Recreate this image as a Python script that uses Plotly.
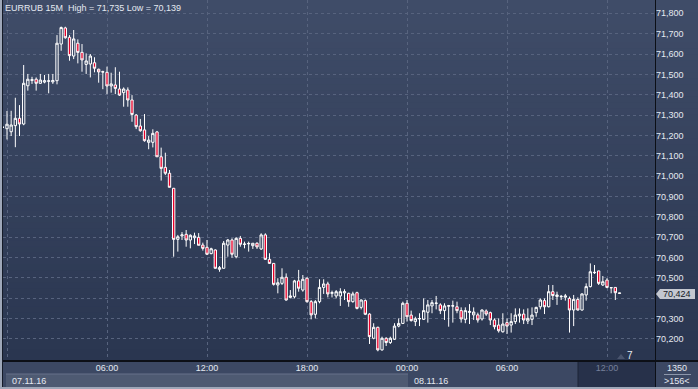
import plotly.graph_objects as go

# ---------------- data (EURRUB, 15-minute bars, 07.11.16 00:00 = bar 0) ----------------
opens = [71240, 71233, 71218, 71248, 71284, 71256, 71444, 71470, 71476, 71456, 71462, 71466, 71463, 71469, 71649, 71728,
         71682, 71590, 71653, 71608, 71549, 71551, 71557, 71525, 71511, 71510, 71443, 71448, 71428, 71410, 71423, 71374,
         71300, 71246, 71227, 71166, 71166, 71217, 71095, 71043, 71014, 70940, 70689, 70706, 70714, 70686, 70697, 70699,
         70661, 70650, 70619, 70637, 70542, 70547, 70661, 70686, 70604, 70694, 70664, 70667, 70658, 70670, 70642, 70711,
         70591, 70571, 70465, 70473, 70503, 70404, 70407, 70485, 70440, 70498, 70383, 70321, 70383, 70453, 70470, 70424,
         70411, 70411, 70426, 70424, 70383, 70427, 70355, 70388, 70322, 70203, 70257, 70146, 70203, 70182, 70198, 70263,
         70276, 70375, 70317, 70285, 70298, 70296, 70331, 70362, 70374, 70367, 70339, 70361, 70361, 70358, 70339, 70296,
         70330, 70318, 70318, 70298, 70337, 70329, 70293, 70268, 70235, 70280, 70268, 70285, 70313, 70322, 70288, 70296,
         70329, 70358, 70388, 70358, 70432, 70408, 70407, 70405, 70399, 70342, 70394, 70342, 70416, 70457, 70525, 70534,
         70465, 70489, 70451, 70453, 70426]
highs = [71242, 71320, 71321, 71385, 71349, 71546, 71502, 71488, 71485, 71502, 71497, 71502, 71502, 71693, 71735, 71734,
         71693, 71718, 71672, 71649, 71603, 71600, 71584, 71528, 71518, 71538, 71508, 71535, 71513, 71436, 71436, 71398,
         71305, 71281, 71305, 71197, 71230, 71222, 71140, 71115, 71030, 70942, 70711, 70725, 70735, 70714, 70722, 70720,
         70673, 70686, 70648, 70640, 70558, 70681, 70691, 70694, 70700, 70706, 70678, 70678, 70670, 70675, 70719, 70719,
         70621, 70572, 70498, 70547, 70522, 70440, 70490, 70539, 70514, 70503, 70391, 70391, 70493, 70493, 70481, 70437,
         70440, 70449, 70444, 70427, 70432, 70432, 70394, 70394, 70326, 70277, 70260, 70211, 70208, 70211, 70277, 70301,
         70383, 70391, 70339, 70309, 70326, 70399, 70391, 70391, 70411, 70375, 70375, 70367, 70388, 70383, 70355, 70355,
         70371, 70355, 70329, 70345, 70345, 70334, 70301, 70301, 70326, 70301, 70326, 70350, 70350, 70345, 70350, 70355,
         70358, 70399, 70399, 70465, 70465, 70432, 70416, 70421, 70408, 70416, 70404, 70424, 70473, 70571, 70563, 70535,
         70509, 70498, 70454, 70455, 70427]
lows = [71238, 71180, 71197, 71142, 71197, 71250, 71420, 71453, 71420, 71453, 71456, 71407, 71453, 71451, 71616, 71675,
        71567, 71575, 71554, 71513, 71502, 71485, 71510, 71459, 71427, 71403, 71410, 71403, 71394, 71341, 71341, 71267,
        71231, 71218, 71169, 71132, 71141, 71095, 70978, 71005, 70945, 70604, 70629, 70686, 70653, 70645, 70666, 70660,
        70634, 70612, 70616, 70545, 70530, 70547, 70604, 70599, 70596, 70653, 70645, 70629, 70642, 70642, 70637, 70588,
        70568, 70462, 70424, 70465, 70388, 70399, 70399, 70432, 70432, 70378, 70296, 70301, 70375, 70421, 70404, 70404,
        70399, 70362, 70391, 70358, 70378, 70345, 70345, 70317, 70175, 70198, 70139, 70142, 70165, 70175, 70195, 70257,
        70273, 70285, 70285, 70263, 70263, 70293, 70280, 70326, 70345, 70322, 70293, 70260, 70280, 70326, 70280, 70277,
        70273, 70293, 70280, 70290, 70313, 70268, 70247, 70231, 70231, 70224, 70231, 70273, 70280, 70273, 70273, 70268,
        70309, 70345, 70322, 70355, 70391, 70367, 70391, 70388, 70231, 70263, 70339, 70339, 70388, 70453, 70519, 70465,
        70460, 70449, 70424, 70391, 70422]
closes = [71240, 71255, 71251, 71284, 71256, 71456, 71476, 71474, 71456, 71472, 71469, 71468, 71470, 71653, 71730, 71680,
          71592, 71674, 71608, 71571, 71566, 71590, 71530, 71512, 71513, 71443, 71453, 71431, 71398, 71428, 71374, 71303,
          71243, 71223, 71174, 71177, 71210, 71095, 71038, 71014, 70945, 70689, 70702, 70711, 70686, 70709, 70706, 70660,
          70645, 70616, 70643, 70547, 70550, 70670, 70686, 70616, 70694, 70665, 70666, 70669, 70670, 70652, 70711, 70591,
          70571, 70468, 70476, 70503, 70391, 70411, 70485, 70449, 70493, 70383, 70318, 70383, 70453, 70470, 70421, 70427,
          70432, 70432, 70432, 70383, 70421, 70350, 70391, 70321, 70211, 70257, 70146, 70203, 70182, 70203, 70263, 70276,
          70375, 70309, 70290, 70299, 70300, 70339, 70367, 70378, 70376, 70339, 70362, 70363, 70363, 70339, 70298, 70339,
          70335, 70332, 70293, 70342, 70322, 70293, 70260, 70240, 70273, 70263, 70285, 70317, 70322, 70293, 70301, 70317,
          70355, 70391, 70358, 70432, 70413, 70416, 70409, 70411, 70342, 70394, 70342, 70421, 70457, 70530, 70527, 70473,
          70481, 70453, 70452, 70427, 70424]
first_bar = -1                      # first bar is 06.11.16 23:45
bars = list(range(first_bar, first_bar + len(opens)))

time_ticks = [0, 24, 48, 72, 96, 120, 144]
time_labels = ["00:00", "06:00", "12:00", "18:00", "00:00", "06:00",
               "<span style='color:#76809a'>12:00</span>"]
price_ticks = list(range(70200, 71801, 100))
# the 70,400 label sits under the last-price marker
price_labels = ["" if v == 70400 else f"{v:,}" for v in price_ticks]
date_labels = ["07.11.16", "08.11.16"]
title_text = "EURRUB 15M  High = 71,735 Low = 70,139"
last_price = "70,424"

# ---------------- layout geometry (pixels) ----------------
W, H = 698, 389
ML, MR, MT, MB = 3, 43, 0, 28
PW, PH = W - ML - MR, H - MT - MB


def px(x):
    return (x - ML) / PW


def py(y):
    return (MT + PH - y) / PH


fig = go.Figure()
fig.add_trace(go.Candlestick(
    x=bars, open=opens, high=highs, low=lows, close=closes,
    increasing=dict(line=dict(color="#ffffff", width=1), fillcolor="rgba(0,0,0,0)"),
    decreasing=dict(line=dict(color="#ffffff", width=1), fillcolor="#e8002a"),
    whiskerwidth=0, showlegend=False, hoverinfo="skip"))

shapes = []
# vertical gradient background
top, bot = (63, 76, 104), (42, 54, 80)
n = 60
for k in range(n):
    t = k / (n - 1)
    c = tuple(round(top[j] + (bot[j] - top[j]) * t) for j in range(3))
    y0 = PH * k / n
    y1 = PH * (k + 1) / n + 0.5
    shapes.append(dict(type="rect", xref="paper", yref="paper", layer="below",
                       x0=px(0), x1=px(W), y0=py(y1), y1=py(y0),
                       fillcolor="rgb(%d,%d,%d)" % c, line=dict(width=0)))
# bottom time axis strip
shapes.append(dict(type="rect", xref="paper", yref="paper", layer="below",
                   x0=px(0), x1=px(W), y0=py(H), y1=py(361),
                   fillcolor="#3c4863", line=dict(width=0)))
# date strip (first day)
shapes.append(dict(type="rect", xref="paper", yref="paper", layer="below",
                   x0=px(6), x1=px(408), y0=py(387), y1=py(374),
                   fillcolor="#4e5a72", line=dict(width=0)))
shapes.append(dict(type="line", xref="paper", yref="paper", layer="above",
                   x0=px(6), x1=px(408), y0=py(374), y1=py(374),
                   line=dict(color="#66718a", width=1)))
# darker future region
shapes.append(dict(type="rect", xref="paper", yref="paper", layer="below",
                   x0=px(578), x1=px(655), y0=py(388), y1=py(362),
                   fillcolor="#27314a", line=dict(width=0)))
shapes.append(dict(type="line", xref="paper", yref="paper", layer="above",
                   x0=px(578), x1=px(578), y0=py(388), y1=py(362),
                   line=dict(color="#1c2436", width=1)))
# black separators
shapes.append(dict(type="line", xref="paper", yref="paper", layer="above",
                   x0=px(655.5), x1=px(655.5), y0=py(H), y1=py(0),
                   line=dict(color="#0c0f16", width=1)))
shapes.append(dict(type="line", xref="paper", yref="paper", layer="above",
                   x0=px(0), x1=px(W), y0=py(361), y1=py(361),
                   line=dict(color="#0c0f16", width=2)))
# window frame
shapes.append(dict(type="rect", xref="paper", yref="paper", layer="above",
                   x0=px(0), x1=px(2), y0=py(H), y1=py(0),
                   fillcolor="#9ea7b8", line=dict(width=0)))
shapes.append(dict(type="line", xref="paper", yref="paper", layer="above",
                   x0=px(2.5), x1=px(2.5), y0=py(387), y1=py(0),
                   line=dict(color="#151b28", width=1)))
shapes.append(dict(type="rect", xref="paper", yref="paper", layer="above",
                   x0=px(0), x1=px(W), y0=py(H), y1=py(387),
                   fillcolor="#9ea7b8", line=dict(width=0)))
# separator line in the corner box
shapes.append(dict(type="line", xref="paper", yref="paper", layer="above",
                   x0=px(664), x1=px(691), y0=py(374.5), y1=py(374.5),
                   line=dict(color="#8d97ab", width=1)))
# last price marker
lx0, lx1, ly0, ly1 = 656, 695, 289, 299
path = "M %f %f L %f %f L %f %f L %f %f L %f %f Z" % (
    px(lx0), py((ly0 + ly1) / 2), px(lx0 + 4), py(ly0), px(lx1), py(ly0),
    px(lx1), py(ly1), px(lx0 + 4), py(ly1))
shapes.append(dict(type="path", xref="paper", yref="paper", layer="above",
                   path=path, fillcolor="#c4c8d0", line=dict(width=0)))
# small shift marker triangle
tri = "M %f %f L %f %f L %f %f Z" % (px(617), py(359), px(625), py(359), px(621), py(354))
shapes.append(dict(type="path", xref="paper", yref="paper", layer="above",
                   path=tri, fillcolor="#4a556e", line=dict(width=0)))

FONT = "Liberation Sans, Arial, sans-serif"
TXT = "#e4e9f1"
ann = []
ann.append(dict(text=title_text, xref="paper", yref="paper", x=px(3), y=py(8),
                xanchor="left", yanchor="middle", showarrow=False,
                font=dict(family=FONT, size=9, color=TXT)))
ann.append(dict(text=date_labels[0], xref="paper", yref="paper", x=px(10), y=py(381),
                xanchor="left", yanchor="middle", showarrow=False,
                font=dict(family=FONT, size=9, color=TXT)))
ann.append(dict(text=date_labels[1], xref="paper", yref="paper", x=px(412), y=py(381),
                xanchor="left", yanchor="middle", showarrow=False,
                font=dict(family=FONT, size=9, color=TXT)))
ann.append(dict(text="1350", xref="paper", yref="paper", x=px(677), y=py(368),
                xanchor="center", yanchor="middle", showarrow=False,
                font=dict(family=FONT, size=9, color=TXT)))
ann.append(dict(text="&gt;156&lt;", xref="paper", yref="paper", x=px(677), y=py(381),
                xanchor="center", yanchor="middle", showarrow=False,
                font=dict(family=FONT, size=9, color=TXT)))
ann.append(dict(text="7", xref="paper", yref="paper", x=px(630), y=py(355),
                xanchor="center", yanchor="middle", showarrow=False,
                font=dict(family=FONT, size=10, color=TXT)))
ann.append(dict(text=last_price, xref="paper", yref="paper", x=px(677), y=py(294),
                xanchor="center", yanchor="middle", showarrow=False,
                font=dict(family=FONT, size=9, color="#15181f")))

fig.update_layout(
    width=W, height=H,
    margin=dict(l=ML, r=MR, t=MT, b=MB, pad=0),
    paper_bgcolor="#3b4762", plot_bgcolor="rgba(0,0,0,0)",
    shapes=shapes, annotations=ann, showlegend=False,
    boxgap=0.2,
    font=dict(family=FONT, size=9, color=TXT),
    xaxis=dict(range=[-0.96, 155.52], tickmode="array", tickvals=time_ticks, ticktext=time_labels,
               showgrid=True, gridcolor="#57637e", griddash="3px,3px", gridwidth=1,
               zeroline=False, showline=False, ticks="", rangeslider=dict(visible=False),
               tickfont=dict(family=FONT, size=9, color=TXT), fixedrange=True),
    yaxis=dict(range=[70091.4, 71865.4], side="right", tickmode="array",
               tickvals=price_ticks, ticktext=price_labels,
               showgrid=True, gridcolor="#57637e", griddash="3px,3px", gridwidth=1,
               zeroline=False, showline=False, ticks="",
               tickfont=dict(family=FONT, size=9, color=TXT), fixedrange=True),
)

fig.write_html("out.html", config={"displayModeBar": False, "staticPlot": True},
               post_script="document.body.style.margin='0';document.body.style.overflow='hidden';")
